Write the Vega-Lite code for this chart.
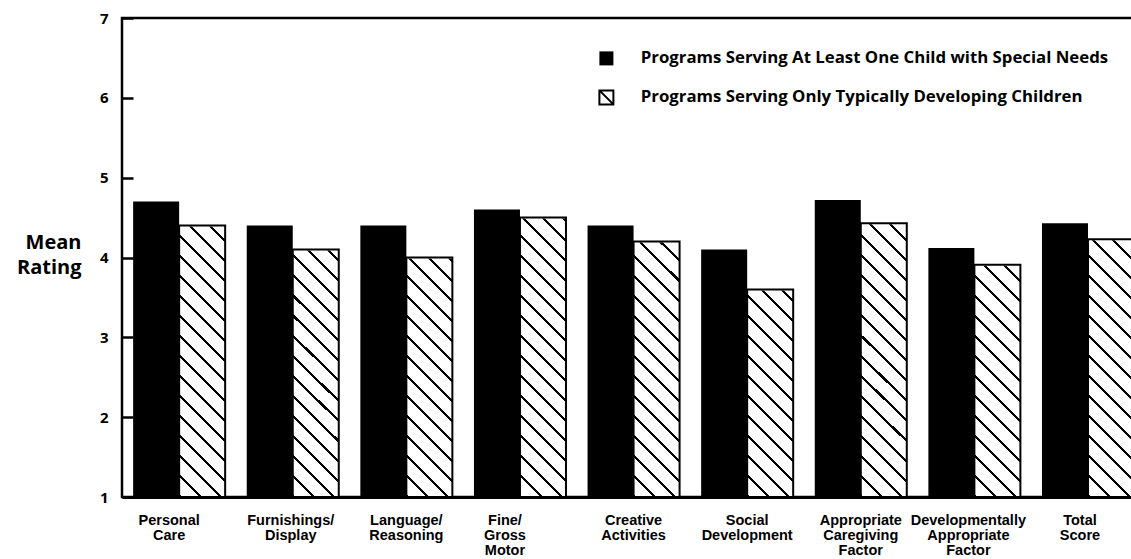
{
  "$schema": "https://vega.github.io/schema/vega-lite/v6.json",
  "width": 1012,
  "height": 479,
  "autosize": {"type": "none"},
  "padding": {"left": 122, "top": 18, "right": -3, "bottom": 62},
  "background": "white",
  "config": {"view": {"stroke": "black", "strokeWidth": 2.5}, "font": "Open Sans"},
  "data": {
    "values": [
      {"cat": "Personal|Care", "group": "Programs Serving At Least One Child with Special Needs", "value": 4.7},
      {"cat": "Personal|Care", "group": "Programs Serving Only Typically Developing Children", "value": 4.4},
      {"cat": "Furnishings/|Display", "group": "Programs Serving At Least One Child with Special Needs", "value": 4.4},
      {"cat": "Furnishings/|Display", "group": "Programs Serving Only Typically Developing Children", "value": 4.1},
      {"cat": "Language/|Reasoning", "group": "Programs Serving At Least One Child with Special Needs", "value": 4.4},
      {"cat": "Language/|Reasoning", "group": "Programs Serving Only Typically Developing Children", "value": 4.0},
      {"cat": "Fine/|Gross|Motor", "group": "Programs Serving At Least One Child with Special Needs", "value": 4.6},
      {"cat": "Fine/|Gross|Motor", "group": "Programs Serving Only Typically Developing Children", "value": 4.5},
      {"cat": "Creative|Activities", "group": "Programs Serving At Least One Child with Special Needs", "value": 4.4},
      {"cat": "Creative|Activities", "group": "Programs Serving Only Typically Developing Children", "value": 4.2},
      {"cat": "Social|Development", "group": "Programs Serving At Least One Child with Special Needs", "value": 4.1},
      {"cat": "Social|Development", "group": "Programs Serving Only Typically Developing Children", "value": 3.6},
      {"cat": "Appropriate|Caregiving|Factor", "group": "Programs Serving At Least One Child with Special Needs", "value": 4.72},
      {"cat": "Appropriate|Caregiving|Factor", "group": "Programs Serving Only Typically Developing Children", "value": 4.43},
      {"cat": "Developmentally|Appropriate|Factor", "group": "Programs Serving At Least One Child with Special Needs", "value": 4.12},
      {"cat": "Developmentally|Appropriate|Factor", "group": "Programs Serving Only Typically Developing Children", "value": 3.91},
      {"cat": "Total|Score", "group": "Programs Serving At Least One Child with Special Needs", "value": 4.43},
      {"cat": "Total|Score", "group": "Programs Serving Only Typically Developing Children", "value": 4.23}
    ]
  },
  "layer": [
    {
      "transform": [{"filter": "datum.group === 'Programs Serving Only Typically Developing Children'"}],
      "mark": {
        "type": "bar",
        "stroke": null,
        "fill": {
          "gradient": "linear", "x1": 0, "y1": 1, "x2": 0.1049, "y2": -0.0859,
          "stops": [
            {"offset": 0, "color": "#000"}, {"offset": 0.0058, "color": "#000"}, {"offset": 0.0058, "color": "#fff"}, {"offset": 0.0385, "color": "#fff"},
            {"offset": 0.0385, "color": "#000"}, {"offset": 0.0443, "color": "#000"}, {"offset": 0.0443, "color": "#fff"}, {"offset": 0.0769, "color": "#fff"},
            {"offset": 0.0769, "color": "#000"}, {"offset": 0.0827, "color": "#000"}, {"offset": 0.0827, "color": "#fff"}, {"offset": 0.1154, "color": "#fff"},
            {"offset": 0.1154, "color": "#000"}, {"offset": 0.1212, "color": "#000"}, {"offset": 0.1212, "color": "#fff"}, {"offset": 0.1538, "color": "#fff"},
            {"offset": 0.1538, "color": "#000"}, {"offset": 0.1596, "color": "#000"}, {"offset": 0.1596, "color": "#fff"}, {"offset": 0.1923, "color": "#fff"},
            {"offset": 0.1923, "color": "#000"}, {"offset": 0.1981, "color": "#000"}, {"offset": 0.1981, "color": "#fff"}, {"offset": 0.2308, "color": "#fff"},
            {"offset": 0.2308, "color": "#000"}, {"offset": 0.2366, "color": "#000"}, {"offset": 0.2366, "color": "#fff"}, {"offset": 0.2692, "color": "#fff"},
            {"offset": 0.2692, "color": "#000"}, {"offset": 0.275, "color": "#000"}, {"offset": 0.275, "color": "#fff"}, {"offset": 0.3077, "color": "#fff"},
            {"offset": 0.3077, "color": "#000"}, {"offset": 0.3135, "color": "#000"}, {"offset": 0.3135, "color": "#fff"}, {"offset": 0.3462, "color": "#fff"},
            {"offset": 0.3462, "color": "#000"}, {"offset": 0.352, "color": "#000"}, {"offset": 0.352, "color": "#fff"}, {"offset": 0.3846, "color": "#fff"},
            {"offset": 0.3846, "color": "#000"}, {"offset": 0.3904, "color": "#000"}, {"offset": 0.3904, "color": "#fff"}, {"offset": 0.4231, "color": "#fff"},
            {"offset": 0.4231, "color": "#000"}, {"offset": 0.4289, "color": "#000"}, {"offset": 0.4289, "color": "#fff"}, {"offset": 0.4615, "color": "#fff"},
            {"offset": 0.4615, "color": "#000"}, {"offset": 0.4673, "color": "#000"}, {"offset": 0.4673, "color": "#fff"}, {"offset": 0.5, "color": "#fff"},
            {"offset": 0.5, "color": "#000"}, {"offset": 0.5058, "color": "#000"}, {"offset": 0.5058, "color": "#fff"}, {"offset": 0.5385, "color": "#fff"},
            {"offset": 0.5385, "color": "#000"}, {"offset": 0.5443, "color": "#000"}, {"offset": 0.5443, "color": "#fff"}, {"offset": 0.5769, "color": "#fff"},
            {"offset": 0.5769, "color": "#000"}, {"offset": 0.5827, "color": "#000"}, {"offset": 0.5827, "color": "#fff"}, {"offset": 0.6154, "color": "#fff"},
            {"offset": 0.6154, "color": "#000"}, {"offset": 0.6212, "color": "#000"}, {"offset": 0.6212, "color": "#fff"}, {"offset": 0.6538, "color": "#fff"},
            {"offset": 0.6538, "color": "#000"}, {"offset": 0.6596, "color": "#000"}, {"offset": 0.6596, "color": "#fff"}, {"offset": 0.6923, "color": "#fff"},
            {"offset": 0.6923, "color": "#000"}, {"offset": 0.6981, "color": "#000"}, {"offset": 0.6981, "color": "#fff"}, {"offset": 0.7308, "color": "#fff"},
            {"offset": 0.7308, "color": "#000"}, {"offset": 0.7366, "color": "#000"}, {"offset": 0.7366, "color": "#fff"}, {"offset": 0.7692, "color": "#fff"},
            {"offset": 0.7692, "color": "#000"}, {"offset": 0.775, "color": "#000"}, {"offset": 0.775, "color": "#fff"}, {"offset": 0.8077, "color": "#fff"},
            {"offset": 0.8077, "color": "#000"}, {"offset": 0.8135, "color": "#000"}, {"offset": 0.8135, "color": "#fff"}, {"offset": 0.8462, "color": "#fff"},
            {"offset": 0.8462, "color": "#000"}, {"offset": 0.852, "color": "#000"}, {"offset": 0.852, "color": "#fff"}, {"offset": 0.8846, "color": "#fff"},
            {"offset": 0.8846, "color": "#000"}, {"offset": 0.8904, "color": "#000"}, {"offset": 0.8904, "color": "#fff"}, {"offset": 0.9231, "color": "#fff"},
            {"offset": 0.9231, "color": "#000"}, {"offset": 0.9289, "color": "#000"}, {"offset": 0.9289, "color": "#fff"}, {"offset": 0.9615, "color": "#fff"},
            {"offset": 0.9615, "color": "#000"}, {"offset": 0.9673, "color": "#000"}, {"offset": 0.9673, "color": "#fff"}, {"offset": 1, "color": "#fff"}
          ]
        }
      },
      "encoding": {
        "x": {"field": "cat", "type": "nominal", "sort": null},
        "xOffset": {"field": "group", "type": "nominal", "scale": {"domain": ["Programs Serving At Least One Child with Special Needs", "Programs Serving Only Typically Developing Children"]}},
        "y": {"datum": 6.95, "type": "quantitative"},
        "y2": {"datum": 1}
      }
    },
    {
      "transform": [{"filter": "datum.group === 'Programs Serving Only Typically Developing Children'"}],
      "mark": {"type": "bar", "fill": "white", "stroke": "white", "strokeWidth": 2},
      "encoding": {
        "x": {"field": "cat", "type": "nominal", "sort": null},
        "xOffset": {"field": "group", "type": "nominal", "scale": {"domain": ["Programs Serving At Least One Child with Special Needs", "Programs Serving Only Typically Developing Children"]}},
        "y": {"field": "value", "type": "quantitative"},
        "y2": {"datum": 6.96}
      }
    },
    {
      "mark": {"type": "bar", "strokeWidth": 2, "fillOpacity": 1},
      "encoding": {
        "x": {
          "field": "cat", "type": "nominal", "sort": null,
          "scale": {"paddingInner": 0.19, "paddingOuter": 0.049, "align": 1},
          "axis": {
            "title": null, "labelExpr": "split(datum.label, '|')", "labelAngle": 0, "labelAlign": "center",
            "labelFont": "Liberation Sans", "labelFontSize": 14.5, "labelFontWeight": "bold", "labelColor": "black",
            "labelLineHeight": 15, "labelPadding": 16, "labelBaseline": "top", "ticks": false,
            "domainColor": "black", "domainWidth": 3, "labelOverlap": false, "labelLimit": 0,
            "labelOffset": {
              "condition": [
                {"test": "datum.value === 'Personal|Care'", "value": -10},
                {"test": "datum.value === 'Fine/|Gross|Motor'", "value": -15},
                {"test": "datum.value === 'Developmentally|Appropriate|Factor'", "value": -6},
                {"test": "datum.value === 'Total|Score'", "value": -8},
                {"test": "datum.value === 'Furnishings/|Display'", "value": -2}
              ],
              "value": 0
            }
          }
        },
        "xOffset": {"field": "group", "type": "nominal", "scale": {"domain": ["Programs Serving At Least One Child with Special Needs", "Programs Serving Only Typically Developing Children"]}},
        "y": {
          "field": "value", "type": "quantitative",
          "scale": {"domain": [1, 7], "zero": false, "nice": false},
          "axis": {
            "title": ["Mean", "Rating"], "titleAngle": 0, "titleAlign": "right", "titleBaseline": "alphabetic",
            "titleX": -52, "titleY": 230, "titleFont": "Open Sans", "titleFontSize": 20, "titleFontWeight": "bold",
            "titleColor": "black", "titleLineHeight": 25,
            "values": [1, 2, 3, 4, 5, 6, 7], "format": "d", "grid": false, "offset": -11, "domain": false,
            "tickSize": 11, "tickWidth": 2.5, "tickColor": "black",
            "labelFont": "Open Sans", "labelFontSize": 15,
            "labelFontWeight": "bold", "labelColor": "black", "labelPadding": 14
          }
        },
        "y2": {"datum": 1},
        "fill": {
          "field": "group", "type": "nominal",
          "scale": {"domain": ["Programs Serving At Least One Child with Special Needs", "Programs Serving Only Typically Developing Children"], "range": ["black", "transparent"]},
          "legend": {
            "orient": "none", "legendX": 476, "legendY": 32, "title": null,
            "symbolSize": 196, "symbolStrokeWidth": 2, "symbolStrokeColor": "black",
            "labelFont": "Open Sans", "labelFontSize": 16.8, "labelFontWeight": "bold", "labelColor": "black",
            "labelOffset": 26, "labelLimit": 0, "rowPadding": 16,
            "encode": {
              "symbols": {
                "update": {
                  "shape": [
                    {"test": "datum.value === 'Programs Serving Only Typically Developing Children'", "value": "M-1,-1L1,-1L1,1L-1,1Z M-1,-1L1,1"},
                    {"value": "square"}
                  ],
                  "fill": [
                    {"test": "datum.value === 'Programs Serving Only Typically Developing Children'", "value": "white"},
                    {"value": "black"}
                  ],
                  "stroke": {"value": "black"},
                  "strokeWidth": {"value": 2}
                }
              }
            }
          }
        },
        "stroke": {
          "field": "group", "type": "nominal",
          "scale": {"domain": ["Programs Serving At Least One Child with Special Needs", "Programs Serving Only Typically Developing Children"], "range": ["transparent", "black"]},
          "legend": null
        }
      }
    }
  ]
}
